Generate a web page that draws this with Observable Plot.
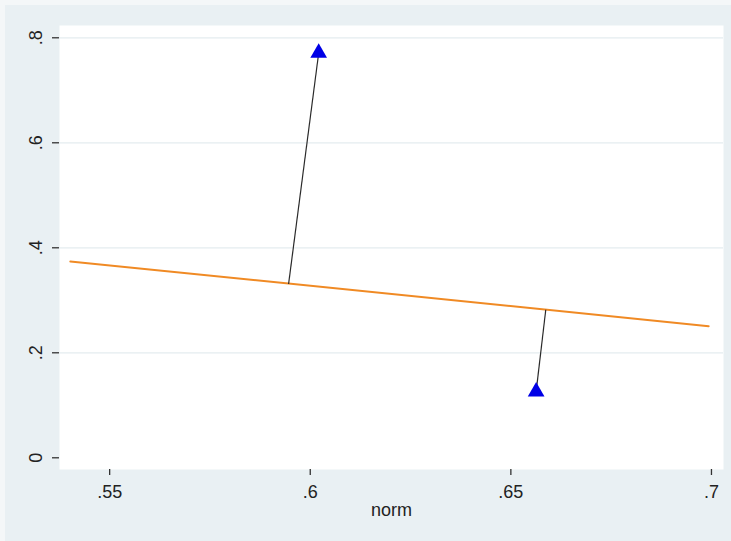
<!DOCTYPE html>
<html>
<head>
<meta charset="utf-8">
<script src="https://cdn.jsdelivr.net/npm/d3@7"></script>
<script src="https://cdn.jsdelivr.net/npm/@observablehq/plot@0.6"></script>
<style>
  html, body { margin: 0; padding: 0; background: #f4f7f8; }
  #wrap { padding: 5px 0 0 5px; width: 726px; height: 536px; }
</style>
</head>
<body>
<div id="wrap"></div>
<script>
// Fitted (orange) line endpoints
const fitNorm = [0.5402, 0.6993];
const fitValue = [0.374, 0.2507];
// Observed points (blue triangles)
const obsNorm = [0.6021, 0.6563];
const obsValue = [0.771, 0.126];
// Where the connecting segments meet the fitted line
const footNorm = [0.5946, 0.6587];
const footValue = [0.331, 0.282];
// Tick labels
const xTicks = [0.55, 0.6, 0.65, 0.7];
const yTicks = [0, 0.2, 0.4, 0.6, 0.8];
const gridTicks = [0.2, 0.4, 0.6, 0.8];
const xLabel = "norm";

const fmt = d => d === 0 ? "0" : String(d).replace(/^0\./, ".");

const fit = fitNorm.map((x, i) => ({x, y: fitValue[i]}));
const obs = obsNorm.map((x, i) => ({x, y: obsValue[i]}));
const links = obsNorm.map((x, i) => ({x1: footNorm[i], y1: footValue[i], x2: x, y2: obsValue[i]}));

const chart = Plot.plot({
  width: 726,
  height: 536,
  marginLeft: 54,
  marginRight: 8,
  marginTop: 20,
  marginBottom: 72,
  style: {background: "#e9f0f3", fontFamily: "'Liberation Sans', Arial, sans-serif", fontSize: "18px", color: "#222"},
  x: {domain: [0.5375, 0.7030]},
  y: {domain: [-0.0223, 0.8234]},
  marks: [
    Plot.frame({fill: "white", stroke: null}),
    Plot.gridY(gridTicks, {stroke: "#e4ecef", strokeOpacity: 1, strokeWidth: 1.2}),
    Plot.axisX({ticks: xTicks, tickFormat: fmt, tickSize: 6, tickPadding: 10, line: true, label: null, stroke: "#333", strokeWidth: 1.3, fontSize: 18, fill: "#222"}),
    Plot.axisY({ticks: yTicks, tickFormat: () => "", tickSize: 7, line: true, label: null, stroke: "#333", strokeWidth: 1.3}),
    Plot.text(yTicks, {y: d => d, text: fmt, frameAnchor: "left", dx: -23, rotate: -90, textAnchor: "middle", lineAnchor: "middle", fontSize: 18, fill: "#222"}),
    Plot.text([xLabel], {text: d => d, frameAnchor: "bottom", dy: 41, lineAnchor: "middle", fontSize: 18, fill: "#222"}),
    Plot.line(fit, {x: "x", y: "y", stroke: "#f08a24", strokeWidth: 2}),
    Plot.link(links, {x1: "x1", y1: "y1", x2: "x2", y2: "y2", stroke: "#2a2a2a", strokeWidth: 1.2}),
    Plot.dot(obs, {x: "x", y: "y", symbol: "triangle", r: 6.2, fill: "#0000e6", stroke: null})
  ]
});
document.getElementById("wrap").appendChild(chart);
</script>
</body>
</html>
